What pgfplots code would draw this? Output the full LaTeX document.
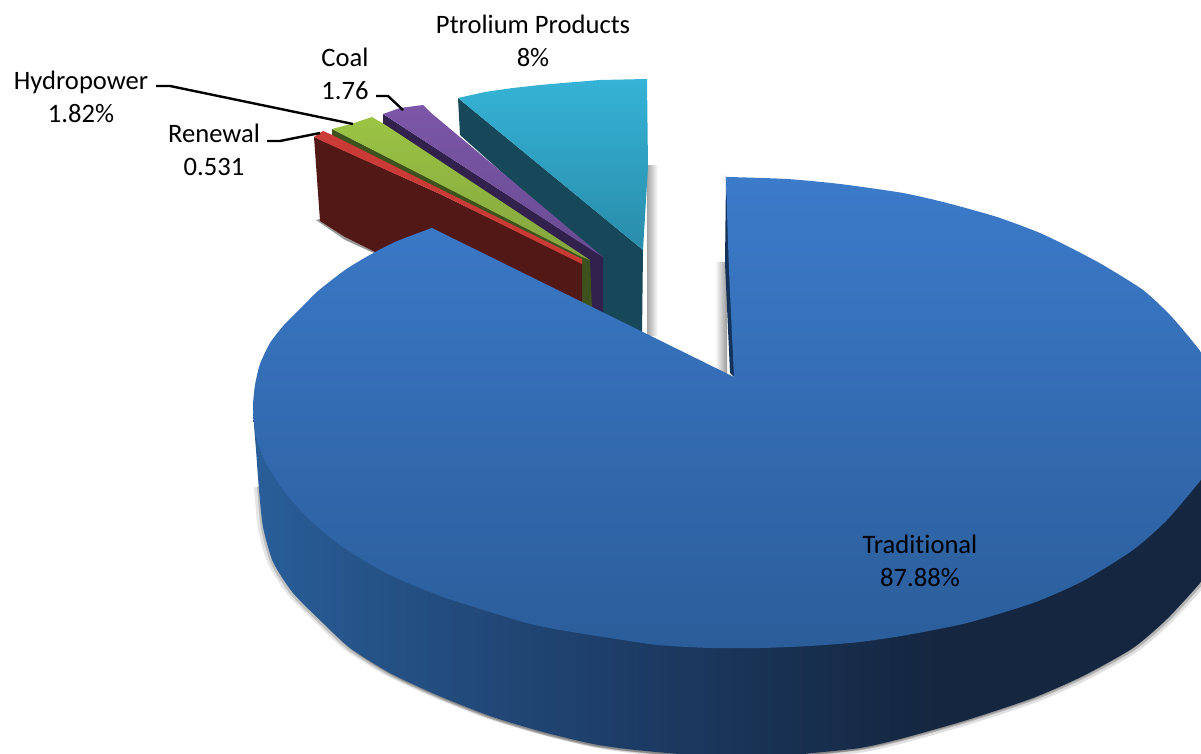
\documentclass[border=0pt]{standalone}
\usepackage{fontspec}
\setmainfont{Carlito}[Ligatures=CommonOff]
\usepackage{pgfplots}
\usepackage{pgfplotstable}
\pgfplotsset{compat=1.18}

\definecolor{tealtop}{RGB}{53,179,214}
\definecolor{tealbot}{RGB}{41,140,170}
\definecolor{tealside}{RGB}{22,72,90}
\definecolor{purptop}{RGB}{124,86,168}
\definecolor{purpbot}{RGB}{104,76,146}
\definecolor{purpside}{RGB}{50,33,76}
\definecolor{greentop}{RGB}{155,196,68}
\definecolor{greenbot}{RGB}{132,164,62}
\definecolor{greenside}{RGB}{62,82,30}
\definecolor{redtop}{RGB}{202,58,54}
\definecolor{redside}{RGB}{82,24,21}
\definecolor{bluetop}{RGB}{60,123,203}
\definecolor{bluebot}{RGB}{43,93,154}
\definecolor{blueedge}{RGB}{20,50,90}

% side of the big slice: colours run left to right (25bp and 75bp are the edges)
\pgfdeclarehorizontalshading{sideblue}{100bp}{
  rgb(0bp)=(0.16,0.37,0.60);
  rgb(25bp)=(0.16,0.37,0.60);
  rgb(33bp)=(0.14,0.31,0.51);
  rgb(45bp)=(0.11,0.23,0.39);
  rgb(54bp)=(0.09,0.18,0.30);
  rgb(60bp)=(0.08,0.15,0.25);
  rgb(75bp)=(0.08,0.15,0.25);
  rgb(100bp)=(0.08,0.15,0.25)}

% lower rim of the big slice, in picture pixels
\pgfplotstableread{
x y
253 413
256 450
259 490
263 527
273 562
293 593
323 623
350 648
390 673
437 695
490 716
543 732
593 744
627 749
667 753
720 757
770 757
813 753
860 748
900 739
967 720
1033 698
1083 676
1133 648
1167 619
1201 582
1230 545
1230 400
}\siderim

% the part of the rim that throws a shadow
\pgfplotstableread{
x y
259 485
263 527
273 562
293 593
323 623
350 648
390 673
437 695
490 716
543 732
593 744
627 749
667 753
720 757
770 757
813 753
860 748
900 739
967 720
1033 698
1083 676
1133 648
1167 619
1201 582
1230 545
1230 480
}\shadowrim

\begin{document}
\begin{tikzpicture}
\begin{axis}[
    name=ax,
    scale only axis,
    width=600.5pt, height=377pt,
    xmin=0, xmax=1201,
    ymin=0, ymax=754,
    y dir=reverse,
    hide axis,
  ]
% soft shadows
\addplot[draw=none, smooth, tension=0.4, fill=black, opacity=0.10, xshift=-2.5pt, yshift=-1pt] table {\shadowrim} -- cycle;
\addplot[draw=none, smooth, tension=0.4, fill=black, opacity=0.12, xshift=2pt, yshift=-2pt] table {\shadowrim} -- cycle;
\addplot[draw=none, smooth, tension=0.4, fill=black, opacity=0.16, xshift=-1pt, yshift=-1pt] table {\shadowrim} -- cycle;
\addplot[draw=none, smooth, tension=0.4, fill=black, opacity=0.20, xshift=1pt, yshift=-1pt] table {\shadowrim} -- cycle;
\addplot[draw=none, left color=black!35, right color=white] coordinates {(647,166) (658,166) (658,336) (647,336)} -- cycle;
\addplot[draw=none, left color=white, right color=black!40] coordinates {(715,263) (727,263) (727,376) (715,376)} -- cycle;
\addplot[draw=none, fill=black!30] coordinates {(604,308) (616,316) (620,325) (604,318)} -- cycle;
\addplot[draw=none, fill=black!40] coordinates {(316,220) (320,219) (345,235) (378,250) (378,255) (345,240)} -- cycle;

% Ptrolium Products
\addplot[draw=none, fill=tealside] coordinates {(458,98) (643,250) (642,336) (598,312) (598,258) (460,135)} -- cycle;
\addplot[draw=none, top color=tealtop, bottom color=tealbot] coordinates {(458,98) (485,92) (513,88) (540,85) (563,83) (600,80) (647,79) (648,167) (646,200) (643,250)} -- cycle;
% Coal
\addplot[draw=none, fill=purpside] coordinates {(383,114) (603,257) (603,314) (586,304) (586,258) (383,124)} -- cycle;
\addplot[draw=none, top color=purptop, bottom color=purpbot] coordinates {(383,114) (400,108) (423,105) (430,112) (603,257) (595,252)} -- cycle;
% Hydropower
\addplot[draw=none, fill=greenside] coordinates {(332,129) (590,260) (592,308) (578,300) (578,262) (332,136)} -- cycle;
\addplot[draw=none, top color=greentop, bottom color=greenbot] coordinates {(332,129) (351,124) (372,117) (387,126) (590,260) (582,257)} -- cycle;
% Renewal
\addplot[draw=none, fill=redside] coordinates {(314,137) (440,194) (582,263) (582,302) (375,252) (345,237) (320,221)} -- cycle;
\addplot[draw=none, fill=redtop] coordinates {(314,137) (323,131) (330,134) (440,189) (582,259) (582,264) (440,194) (322,141)} -- cycle;

% Traditional
\addplot[draw=none, smooth, tension=0.4, shading=sideblue] table {\siderim} -- cycle;
\addplot[draw=none, fill=blueedge] coordinates {(726,178) (725,263) (730,373) (735,378) (730,270)} -- cycle;
\addplot[draw=none, smooth, tension=0.4, top color=bluetop, bottom color=bluebot] coordinates {
  (734,377) (729,270) (726,180) (726,177) (729,177) (787,179) (840,184) (903,193) (947,203) (997,217)
  (1040,233) (1073,249) (1103,265) (1143,290) (1170,315) (1193,342) (1215,372)
  (1230,420) (1225,450) (1201,480) (1167,520) (1133,550) (1083,581) (1033,603) (967,623) (907,635)
  (860,642) (810,646) (760,648) (710,648) (657,645) (610,638) (560,630) (523,622)
  (443,597) (390,575) (347,550) (313,523) (287,495) (267,465) (257,440) (254,420)
  (253,405) (255,385) (260,364) (270,343) (284,325) (302,307) (318,291) (345,270) (368,256) (395,242) (429,229) (432,228) (436,230)} -- cycle;

% leader lines
\addplot[black, line width=1.2pt] coordinates {(156,86) (170,86) (353,124)};
\addplot[black, line width=1.2pt] coordinates {(267,141) (280,141) (320,133)};
\addplot[black, line width=1.2pt] coordinates {(376,96) (388,96) (403,110)};

% labels
\tikzset{lab/.style={align=center, inner sep=0pt, font=\fontsize{13.3}{16.5}\selectfont}}
\node[lab] at (axis cs:81,97) {Hydropower\\1.82\%};
\node[lab] at (axis cs:345,74) {Coal\\1.76};
\node[lab] at (axis cs:214,150) {Renewal\\0.531};
\node[lab] at (axis cs:533,41) {Ptrolium Products\\8\%};
\node[lab] at (axis cs:920,561) {Traditional\\87.88\%};
\end{axis}
\pgfresetboundingbox
\path[use as bounding box] (ax.south west) rectangle (ax.north east);
\end{tikzpicture}
\end{document}
